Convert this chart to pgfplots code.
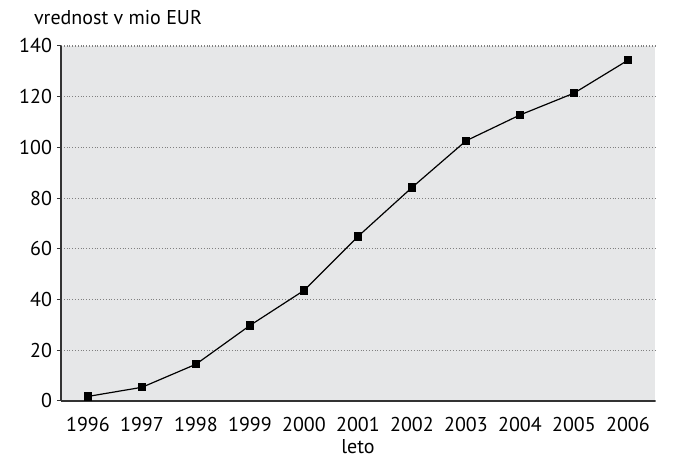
\documentclass[border=0pt]{standalone}
\usepackage{fontspec}
\setmainfont{PT Sans}
\usepackage{pgfplots}
\pgfplotsset{compat=1.18}
\definecolor{bgray}{HTML}{E6E7E8}
\definecolor{gline}{HTML}{808080}
\begin{document}
\begin{tikzpicture}
\begin{axis}[
  scale only axis,
  width=297pt, height=177.5pt,
  xmin=1995.5, xmax=2006.5,
  ymin=0, ymax=140,
  xtick={1996,...,2006},
  ytick={0,20,...,140},
  /pgf/number format/assume math mode=true,
  xticklabel style={/pgf/number format/1000 sep={}},
  font=\fontsize{10}{12}\selectfont,
  ticklabel style={font=\fontsize{10}{12}\selectfont},
  axis x line*=bottom,
  axis y line*=left,
  axis line style={-, line width=0.7pt, color=black!80},
  x tick style={draw=none},
  y tick style={line width=0.5pt, color=black!80},
  major tick length=2pt,
  tick align=outside,
  ymajorgrids,
  major grid style={densely dotted, line width=0.6pt, color=gline},
  axis background/.style={fill=bgray},
  xticklabel style={yshift=-2.5pt},
  yticklabel style={xshift=1pt},
  xlabel={leto},
  xlabel style={at={(rel axis cs:0.5,0)}, anchor=base, yshift=-26.5pt},
  ylabel={vrednost v mio EUR},
  ylabel style={rotate=-90, at={(rel axis cs:0,1)}, anchor=base west, xshift=-17pt, yshift=10.5pt},
  clip=false,
]
\addplot[black, line width=0.6pt, mark=square*, mark size=1.75pt] coordinates {
  (1996,1.8) (1997,5.4) (1998,14.5) (1999,29.8) (2000,43.6) (2001,64.9)
  (2002,84.2) (2003,102.6) (2004,112.8) (2005,121.4) (2006,134.4)
};
\end{axis}
\pgfresetboundingbox
\path[use as bounding box] ([xshift=-30.5pt,yshift=-29pt]current axis.south west) rectangle ([xshift=11pt,yshift=23pt]current axis.north east);
\end{tikzpicture}
\end{document}
